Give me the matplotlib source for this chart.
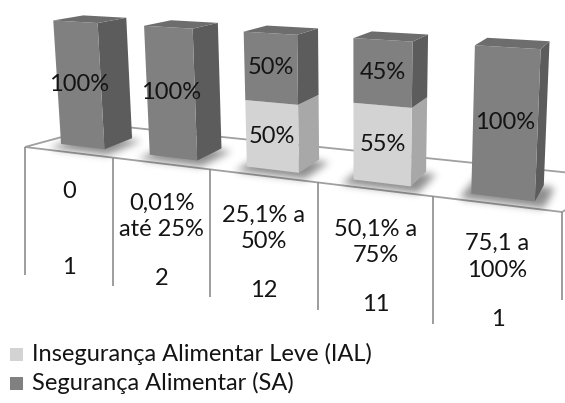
import numpy as np
import matplotlib
matplotlib.use("Agg")
import matplotlib.pyplot as plt
from matplotlib.path import Path
from matplotlib.patches import Polygon

plt.rcParams['font.family'] = ['Lato', 'DejaVu Sans']

# ---- data -------------------------------------------------------------
categories = ["0", "0,01%\naté 25%", "25,1% a\n50%", "50,1% a\n75%", "75,1 a\n100%"]
counts = [1, 2, 12, 11, 1]
ial = [0, 0, 50, 55, 0]          # Insegurança Alimentar Leve (%)
sa = [100, 100, 50, 45, 100]     # Segurança Alimentar (%)
series_names = ["Insegurança Alimentar Leve (IAL)", "Segurança Alimentar (SA)"]

# ---- style ------------------------------------------------------------
W, H = 565, 403
face_colors = {
    "IAL": {"front": "#d3d3d3", "side": "#a8a8a8", "top": "#bdbdbd"},
    "SA": {"front": "#808080", "side": "#5c5c5c", "top": "#6d6d6d"},
}
text_color = "#141414"
grid_color = "#8c8c8c"
floor_edge = "#a0a0a0"
label_size = 17

# ---- 3D plot box: calibration of the perspective camera ----------------
# world coords: X in category units (category i spans [i, i+1], bars take
# the middle half), Y = share of the bar (0..1), Z = bar depth (0 front, 1 back)
calib_world = np.array([
    (0.25, 1, 0), (0.75, 1, 0), (0.25, 0, 0), (0.75, 0, 0),
    (0.25, 1, 1), (0.75, 1, 1), (0.75, 0, 1),
    (2.25, 1, 0), (2.75, 1, 0), (2.25, 0, 0), (2.75, 0, 0),
    (2.25, 1, 1), (2.75, 1, 1), (2.75, 0, 1),
    (4.25, 1, 0), (4.75, 1, 0), (4.25, 0, 0), (4.75, 0, 0),
    (4.25, 1, 1), (4.75, 1, 1),
    (1.25, 1, 0), (3.25, 1, 0),
], dtype=float)
calib_screen = np.array([
    (52, 21), (98, 24), (62, 142), (105, 148),
    (83, 14), (128, 17), (133, 137),
    (243, 32), (298, 35), (243, 168), (300, 175),
    (267, 24), (319, 28), (318, 167),
    (477, 47), (540, 50), (471, 191), (537, 197),
    (485, 37), (549, 40),
    (143, 27), (354, 39),
], dtype=float)


def fit_camera(world, screen):
    mu = screen.mean(axis=0)
    s = np.sqrt(2) / np.mean(np.linalg.norm(screen - mu, axis=1))
    T = np.array([[s, 0, -s * mu[0]], [0, s, -s * mu[1]], [0, 0, 1]])
    pts = (screen - mu) * s
    rows = []
    for (X, Y, Z), (u, v) in zip(world, pts):
        rows.append([X, Y, Z, 1, 0, 0, 0, 0, -u * X, -u * Y, -u * Z, -u])
        rows.append([0, 0, 0, 0, X, Y, Z, 1, -v * X, -v * Y, -v * Z, -v])
    _, _, vt = np.linalg.svd(np.array(rows))
    P = vt[-1].reshape(3, 4)
    return np.linalg.inv(T) @ P


CAM = fit_camera(calib_world, calib_screen)


def project(pts):
    pts = np.atleast_2d(np.asarray(pts, dtype=float))
    h = np.c_[pts, np.ones(len(pts))] @ CAM.T
    return h[:, :2] / h[:, 2:3]


# ---- figure -----------------------------------------------------------
fig = plt.figure(figsize=(W / 100, H / 100), dpi=100)
ax = fig.add_axes([0, 0, 1, 1])
ax.set_xlim(0, W)
ax.set_ylim(H, 0)
ax.axis("off")

# floor slab and data table (drawn flat, sloping with the floor front edge)
table_left, table_right = 25, 562
table_top_left, table_top_right = 147, 212
slope = (table_top_right - table_top_left) / (table_right - table_left)


def top_line(x):
    return table_top_left + slope * (x - table_left)


floor = Polygon([(table_left, top_line(table_left)), (106, 125), (620, 178),
                 (table_right, top_line(table_right))],
                closed=True, facecolor="white", edgecolor=floor_edge, lw=1.3, zorder=1)
ax.add_patch(floor)

# soft shadows under the bars
yy, xx = np.mgrid[0:H, 0:W]
grid = np.c_[xx.ravel() + 0.5, yy.ravel() + 0.5]
mask = np.zeros(H * W)
bar_w = 0.5
for i in range(len(categories)):
    x0, x1 = i + 0.5 - bar_w / 2, i + 0.5 + bar_w / 2
    foot = project([(x0 - 0.08, 0, -0.15), (x1 + 0.08, 0, -0.15),
                    (x1 + 0.08, 0, 1.1), (x0 - 0.08, 0, 1.1)])
    foot[:, 1] += 3
    mask = np.maximum(mask, Path(foot).contains_points(grid).astype(float))
mask = mask.reshape(H, W)
sig = 4.0
k = np.exp(-0.5 * (np.arange(-12, 13) / sig) ** 2)
k /= k.sum()
blur = np.apply_along_axis(lambda r: np.convolve(r, k, mode="same"), 1, mask)
blur = np.apply_along_axis(lambda c: np.convolve(c, k, mode="same"), 0, blur)
shadow = np.zeros((H, W, 4))
shadow[..., 3] = blur * 0.45
ax.imshow(shadow, extent=(0, W, H, 0), zorder=2, interpolation="bilinear")

# table grid
col_edges = [table_left, 113, 210, 318, 433, table_right]
row_depth = 128
for j, x in enumerate(col_edges):
    y0 = top_line(x)
    y1 = y0 + (88 if j == len(col_edges) - 1 else row_depth)
    ax.plot([x, x], [y0, y1], color=grid_color, lw=1.2, zorder=3,
            solid_capstyle="butt")

for i, (cat, n) in enumerate(zip(categories, counts)):
    xc = (col_edges[i] + col_edges[i + 1]) / 2
    ax.text(xc, top_line(xc) + 29, cat, ha="center", va="top", fontsize=label_size,
            color=text_color, linespacing=1.32, zorder=4)
    ax.text(xc, top_line(xc) + 115, str(n), ha="center", va="center",
            fontsize=label_size, color=text_color, zorder=4)

# 3D stacked bars
for i in range(len(categories)):
    x0, x1 = i + 0.5 - bar_w / 2, i + 0.5 + bar_w / 2
    base = 0.0
    stack = [("IAL", ial[i]), ("SA", sa[i])]
    tops = [k for k, (_, v) in enumerate(stack) if v > 0]
    for k, (key, val) in enumerate(stack):
        if val <= 0:
            continue
        y0, y1 = base / 100, (base + val) / 100
        c = face_colors[key]
        front = project([(x0, y0, 0), (x1, y0, 0), (x1, y1, 0), (x0, y1, 0)])
        side = project([(x1, y0, 0), (x1, y0, 1), (x1, y1, 1), (x1, y1, 0)])
        ax.add_patch(Polygon(side, closed=True, facecolor=c["side"], edgecolor="none", zorder=5))
        ax.add_patch(Polygon(front, closed=True, facecolor=c["front"], edgecolor="none", zorder=5))
        if k == tops[-1]:
            top = project([(x0, y1, 0), (x1, y1, 0), (x1, y1, 1), (x0, y1, 1)])
            ax.add_patch(Polygon(top, closed=True, facecolor=c["top"], edgecolor="none", zorder=5))
        cx, cy = front.mean(axis=0)
        ax.text(cx, cy, f"{val}%", ha="center", va="center", fontsize=label_size,
                color=text_color, zorder=6)
        base += val

# legend
for row, key in enumerate(["IAL", "SA"]):
    yc = 354 + row * 29
    ax.add_patch(plt.Rectangle((10, yc - 6.5), 13, 13, facecolor=face_colors[key]["front"],
                               edgecolor="none", zorder=4))
    ax.text(32, yc, series_names[row], ha="left", va="center", fontsize=label_size,
            color=text_color, zorder=4)

fig.savefig("out.png", dpi=100)
